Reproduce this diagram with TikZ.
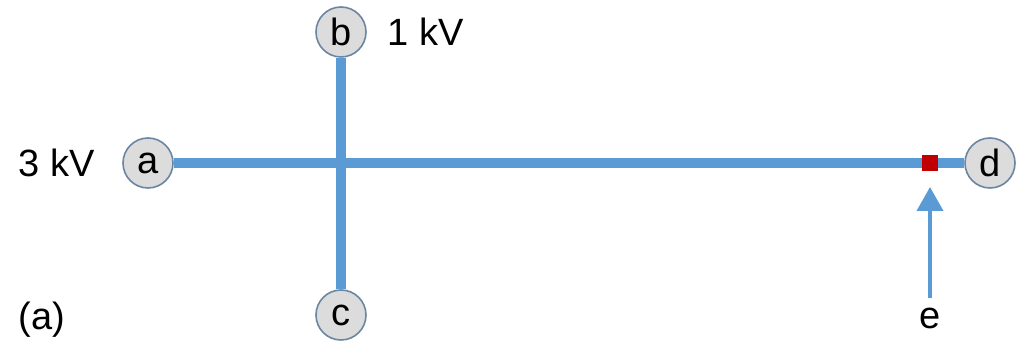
\documentclass[tikz,border=0pt]{standalone}
\usepackage{fontspec}
\setmainfont{Liberation Sans}
\usetikzlibrary{arrows.meta}
\definecolor{lineblue}{HTML}{5B9BD5}
\definecolor{nodeedge}{HTML}{6A86A3}
\definecolor{nodefill}{HTML}{DCDCDC}
\definecolor{darkred}{HTML}{C00000}
\begin{document}
\begin{tikzpicture}[x=0.5pt,y=-0.5pt,
  bus/.style={draw=nodeedge,fill=nodefill,circle,line width=0.8pt,minimum size=25pt,inner sep=0pt,font=\fontsize{19}{22}\selectfont},
  lbl/.style={font=\fontsize{19}{22}\selectfont,inner sep=0pt},
  line/.style={lineblue,line width=5pt},
  fault/.style={fill=darkred,draw=none,minimum size=8pt,inner sep=0pt}]
\useasboundingbox (0,0) rectangle (1019,341);
\node[bus] (a) at (148,163) {a};
\node[bus] (b) at (341,32) {b};
\node[bus] (c) at (341,315) {c};
\node[bus] (d) at (990,163) {d};
\draw[line] (a) -- (d);
\draw[line] (b) -- (c);
\node[fault] (f) at (930,163) {};
\node[lbl] (e) at (930,318) {e};
\coordinate (etip) at (930,187);
\coordinate (etail) at (930,298);
\draw[lineblue,line width=2pt,-{Triangle[length=12pt,width=13pt]}] (etail) -- (etip);
\node[lbl] (kv3) at (57,163) {3 kV};
\node[lbl] (kv1) at (426,32) {1 kV};
\node[lbl] (lab) at (42,320) {(a)};
\end{tikzpicture}
\end{document}
